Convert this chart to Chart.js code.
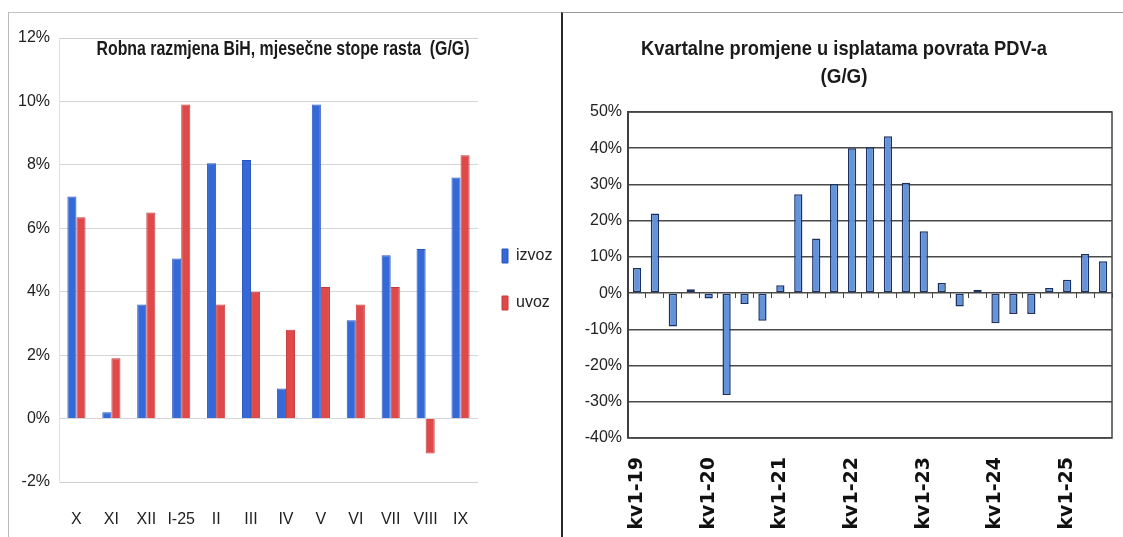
<!DOCTYPE html>
<html>
<head>
<meta charset="utf-8">
<script src="https://cdn.jsdelivr.net/npm/chart.js@4.4.1/dist/chart.umd.min.js"></script>
<style>
  html, body { margin: 0; padding: 0; background: #fff; }
  body { width: 1123px; height: 537px; position: relative; overflow: hidden; }
  .box { position: absolute; box-sizing: border-box; }
  #leftBox { left: 8px; top: 12px; width: 553px; height: 525px; border-left: 1px solid #b9b9b9; border-top: 1px solid #c4c4c4; }
  #rightBox { left: 561px; top: 12px; width: 562px; height: 525px; border-left: 2px solid #2a2a2a; border-top: 1px solid #9a9a9a; }
</style>
</head>
<body>
<div class="box" id="leftBox"><canvas id="tradeChart" width="552" height="524"></canvas></div>
<div class="box" id="rightBox"><canvas id="vatChart" width="560" height="524"></canvas></div>

<script>
// ===== Data: Robna razmjena BiH =====
const months = ["X", "XI", "XII", "I-25", "II", "III", "IV", "V", "VI", "VII", "VIII", "IX"];
const izvoz = [7.0, 0.2, 3.6, 5.05, 8.05, 8.15, 0.95, 9.9, 3.1, 5.15, 5.35, 7.6];
const uvoz = [6.35, 1.9, 6.5, 9.9, 3.6, 4.0, 2.8, 4.15, 3.6, 4.15, -1.1, 8.3];
const tradeTicks = [-2, 0, 2, 4, 6, 8, 10, 12];

// ===== Data: povrat PDV-a =====
const quarters = [
    "kv1-19", "kv2-19", "kv3-19", "kv4-19",
    "kv1-20", "kv2-20", "kv3-20", "kv4-20",
    "kv1-21", "kv2-21", "kv3-21", "kv4-21",
    "kv1-22", "kv2-22", "kv3-22", "kv4-22",
    "kv1-23", "kv2-23", "kv3-23", "kv4-23",
    "kv1-24", "kv2-24", "kv3-24", "kv4-24",
    "kv1-25", "kv2-25", "kv3-25"
];
const povrat = [6.9, 22, -9.2, 1.1, -1.5, -28.1, -3.0, -7.6, 2.2, 27.3, 15.1, 30.1, 40, 40.3, 43.3, 30.5, 17.1, 2.8, -3.7, 0.9, -8.3, -5.8, -5.8, 1.4, 3.7, 10.8, 8.8];
const vatTicks = [-40, -30, -20, -10, 0, 10, 20, 30, 40, 50];

const narrow = '"Liberation Sans Narrow", "Liberation Sans", Arial, sans-serif';

// ===== Plugins =====
// title squeezed to a given width, drawn over the plot
const fitTitle = {
    id: "fitTitle",
    afterDraw(chart, args, opts) {
        const ctx = chart.ctx;
        ctx.save();
        ctx.fillStyle = opts.color;
        ctx.font = opts.font;
        ctx.textAlign = "center";
        ctx.textBaseline = "middle";
        opts.lines.forEach(l => ctx.fillText(l.text, opts.x, l.y, l.width));
        ctx.restore();
    }
};

// box round the plot area
const plotFrame = {
    id: "plotFrame",
    afterDatasetsDraw(chart, args, opts) {
        if (!opts.color) return;
        const { ctx, chartArea: a } = chart;
        ctx.save();
        ctx.strokeStyle = opts.color;
        ctx.lineWidth = opts.width;
        ctx.strokeRect(a.left, a.top, a.right - a.left, a.bottom - a.top);
        ctx.restore();
    }
};

// move the legend box a little after layout
const nudgeLegend = {
    id: "nudgeLegend",
    afterLayout(chart, args, opts) {
        const lg = chart.legend;
        if (!lg) return;
        lg.left += opts.dx; lg.right += opts.dx;
        lg.top += opts.dy; lg.bottom += opts.dy;
    }
};

// ===== Left chart =====
new Chart(document.getElementById("tradeChart"), {
    type: "bar",
    plugins: [fitTitle, nudgeLegend],
    data: {
        labels: months,
        datasets: [
            { label: "izvoz", data: izvoz, backgroundColor: "#3569d8", borderColor: "#2a55c0", borderWidth: 1 },
            { label: "uvoz", data: uvoz, backgroundColor: "#df4949", borderColor: "#c63a3a", borderWidth: 1 }
        ]
    },
    options: {
        responsive: false,
        animation: false,
        layout: { padding: { top: 25, right: 0, bottom: 0, left: 0 } },
        datasets: { bar: { barPercentage: 1, categoryPercentage: 0.52 } },
        scales: {
            x: {
                grid: { display: false, drawTicks: false },
                border: { display: false },
                ticks: { color: "#222", font: { family: narrow, size: 16 }, padding: 28, autoSkip: false, maxRotation: 0, minRotation: 0 },
                afterFit: s => { s.height = 55; s.paddingLeft = 0; s.paddingRight = 0; }
            },
            y: {
                min: -2, max: 12,
                afterBuildTicks: s => { s.ticks = tradeTicks.map(v => ({ value: v })); },
                grid: {
                    drawTicks: false,
                    color: c => (c.tick && (c.tick.value === 12 || c.tick.value === -2)) ? "#cfcfcf" : "#d6d6d6"
                },
                border: { color: "#e2e2e2" },
                ticks: { color: "#222", font: { family: narrow, size: 16 }, padding: 9, callback: v => v + "%" },
                afterFit: s => { s.width = 50; }
            }
        },
        plugins: {
            legend: {
                position: "right",
                maxWidth: 83,
                labels: {
                    boxWidth: 6, boxHeight: 14, padding: 31,
                    color: "#222",
                    font: { family: narrow, size: 16 }
                }
            },
            nudgeLegend: { dx: -7, dy: -8 },
            tooltip: { enabled: false },
            fitTitle: {
                color: "#1a1a1a",
                font: 'bold 21px "Liberation Sans", Arial, sans-serif',
                x: 274,
                lines: [{ text: "Robna razmjena BiH, mjesečne stope rasta  (G/G)", y: 36, width: 373 }]
            }
        }
    }
});

// ===== Right chart =====
new Chart(document.getElementById("vatChart"), {
    type: "bar",
    plugins: [fitTitle, plotFrame],
    data: {
        labels: quarters,
        datasets: [{
            label: "povrat PDV-a",
            data: povrat,
            xAxisID: "x",
            backgroundColor: "#6393db",
            borderColor: "#1d3160",
            borderWidth: 1.5,
            borderSkipped: false
        }]
    },
    options: {
        responsive: false,
        animation: false,
        layout: { padding: { top: 99, right: 11, bottom: 2, left: 0 } },
        datasets: { bar: { barPercentage: 0.46, categoryPercentage: 1 } },
        scales: {
            x: {
                grid: { display: false, drawTicks: false },
                border: { display: false },
                ticks: {
                    autoSkip: false, minRotation: 90, maxRotation: 90, padding: 19,
                    color: "#111",
                    font: { family: '"DejaVu Sans", sans-serif', size: 19, weight: "bold" },
                    callback: function (v) {
                        const l = this.getLabelForValue(v);
                        return l.startsWith("kv1") ? l : "";
                    }
                },
                afterFit: s => { s.height = 97; s.paddingLeft = 0; s.paddingRight = 0; }
            },
            x0: {
                type: "category",
                position: { y: 0 },
                offset: true,
                grid: { offset: true, drawOnChartArea: false, drawTicks: true, tickLength: 5, color: "#444", tickWidth: 1 },
                border: { display: false },
                ticks: { display: false },
                afterFit: s => { s.paddingLeft = 0; s.paddingRight = 0; }
            },
            y: {
                min: -40, max: 50,
                afterBuildTicks: s => { s.ticks = vatTicks.map(v => ({ value: v })); },
                grid: { drawTicks: false, color: "#4a4a4a", lineWidth: 1.5 },
                border: { color: "#333", width: 2 },
                ticks: { color: "#222", font: { family: '"Liberation Sans", Arial, sans-serif', size: 16 }, padding: 6, callback: v => v + "%" },
                afterFit: s => { s.width = 65; }
            }
        },
        plugins: {
            legend: { display: false },
            tooltip: { enabled: false },
            plotFrame: { color: "#444", width: 1.5 },
            fitTitle: {
                color: "#1a1a1a",
                font: 'bold 21px "Liberation Sans", Arial, sans-serif',
                x: 281,
                lines: [
                    { text: "Kvartalne promjene u isplatama povrata PDV-a", y: 36, width: 406 },
                    { text: "(G/G)", y: 64, width: 47 }
                ]
            }
        }
    }
});
</script>
</body>
</html>
